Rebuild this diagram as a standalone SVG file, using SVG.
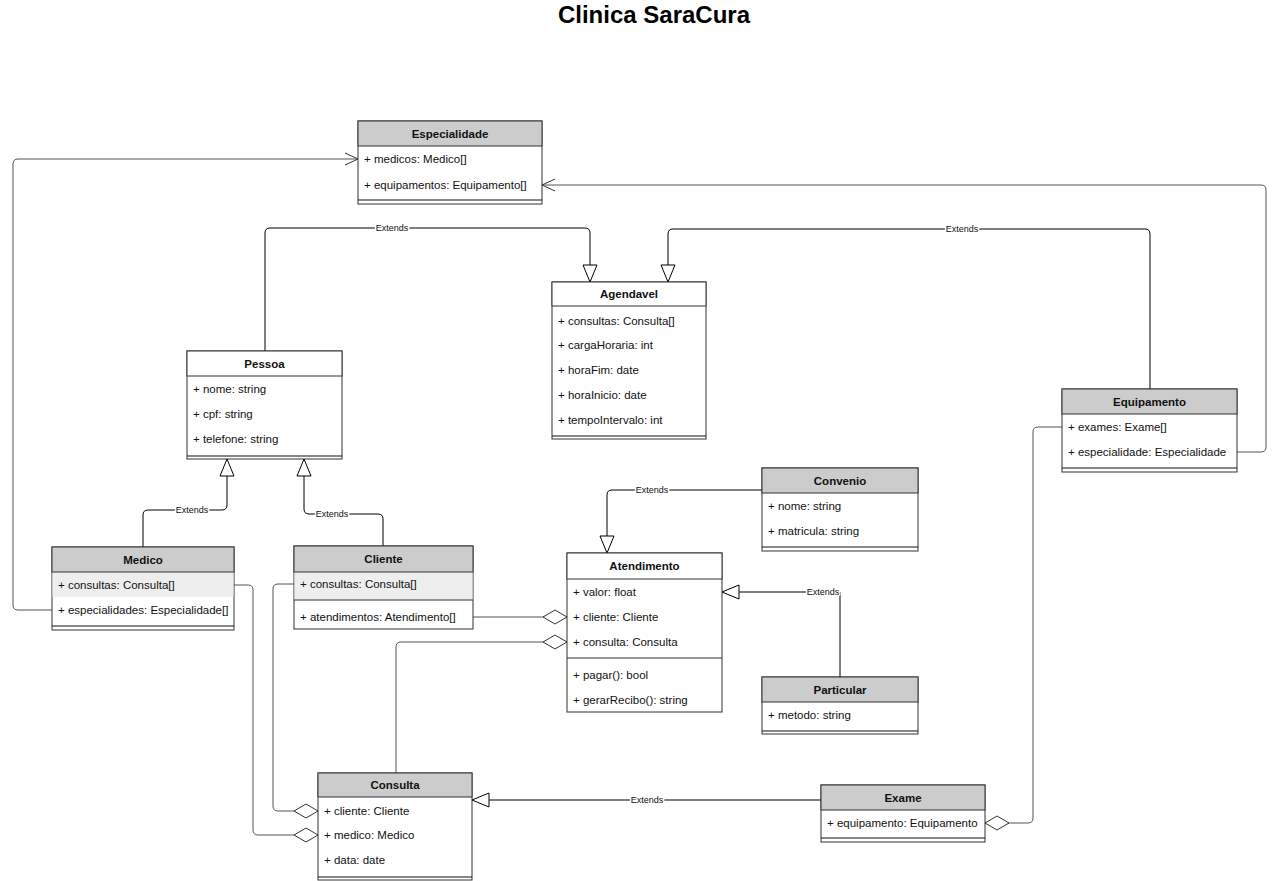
<svg xmlns="http://www.w3.org/2000/svg" width="1280" height="881" viewBox="0 0 1280 881">
<style>
.bg{fill:#fff}
.box{fill:#fff;stroke:#333;stroke-width:1}
.hg{fill:#ccc;stroke:#333;stroke-width:1}
.hw{fill:#fff;stroke:#333;stroke-width:1}
.sh{fill:#eee;stroke:none}
.sep{stroke:#111;stroke-width:1.2;fill:none}
.dv{stroke:#333;stroke-width:1;fill:none}
.t{font-family:"Liberation Sans",Arial,Helvetica,sans-serif;font-size:11.5px;fill:#111}
.h{font-weight:bold;text-anchor:middle}
.ttl{font-family:"Liberation Sans",Arial,Helvetica,sans-serif;font-size:24px;font-weight:bold;fill:#000;text-anchor:middle}
.lbl{font-family:"Liberation Sans",Arial,Helvetica,sans-serif;font-size:9px;fill:#111;text-anchor:middle;stroke:#fff;stroke-width:3px;paint-order:stroke;stroke-linejoin:round}
.ext{fill:none;stroke:#000;stroke-width:1}
.asc{fill:none;stroke:#555;stroke-width:1}
</style>
<defs>
<marker id="tri" markerUnits="userSpaceOnUse" markerWidth="20" markerHeight="18" refX="18" refY="8" orient="auto">
<path d="M1,1 L18,8 L1,15 Z" fill="#fff" stroke="#000" stroke-width="1"/>
</marker>
<marker id="dia" markerUnits="userSpaceOnUse" markerWidth="27" markerHeight="17" refX="25" refY="8" orient="auto">
<path d="M1,8 L13,1 L25,8 L13,15 Z" fill="#fff" stroke="#333" stroke-width="1"/>
</marker>
<marker id="opn" markerUnits="userSpaceOnUse" markerWidth="16" markerHeight="14" refX="14" refY="7" orient="auto">
<path d="M1,1 L14,7 L1,13" fill="none" stroke="#333" stroke-width="1"/>
</marker>
</defs>
<rect class="bg" x="0" y="0" width="1280" height="881"/>
<text class="ttl" x="654" y="23">Clinica SaraCura</text>

<g id="connectors">
<path class="asc" d="M52,610 L18,610 Q13,610 13,605 L13,164 Q13,159 18,159 L358,159" marker-end="url(#opn)"/>
<path class="asc" d="M1237,452 L1261,452 Q1266,452 1266,447 L1266,190 Q1266,185 1261,185 L542,185" marker-end="url(#opn)"/>
<path class="ext" d="M265,351 L265,233 Q265,228 270,228 L585,228 Q590,228 590,233 L590,282" marker-end="url(#tri)"/>
<path class="ext" d="M1150,389 L1150,234 Q1150,229 1145,229 L673,229 Q668,229 668,234 L668,282" marker-end="url(#tri)"/>
<path class="ext" d="M143,547 L143,515 Q143,510 148,510 L222,510 Q227,510 227,505 L227,459" marker-end="url(#tri)"/>
<path class="ext" d="M383,546 L383,519 Q383,514 378,514 L309,514 Q304,514 304,509 L304,459" marker-end="url(#tri)"/>
<path class="asc" d="M473,617 L567,617" marker-end="url(#dia)"/>
<path class="asc" d="M396,773 L396,647 Q396,642 401,642 L567,642" marker-end="url(#dia)"/>
<path class="asc" d="M294,584 L278,584 Q273,584 273,589 L273,806 Q273,811 278,811 L318,811" marker-end="url(#dia)"/>
<path class="asc" d="M234,585 L248,585 Q253,585 253,590 L253,830 Q253,835 258,835 L318,835" marker-end="url(#dia)"/>
<path class="ext" d="M821,800 L472,800" marker-end="url(#tri)"/>
<path class="asc" d="M1062,427 L1038,427 Q1033,427 1033,432 L1033,818 Q1033,823 1028,823 L985,823" marker-end="url(#dia)"/>
<path class="ext" d="M762,490 L612,490 Q607,490 607,495 L607,553" marker-end="url(#tri)"/>
<path class="ext" d="M840,677 L840,592 L722,592" marker-end="url(#tri)"/>
<text class="lbl" x="392" y="231">Extends</text>
<text class="lbl" x="962" y="232">Extends</text>
<text class="lbl" x="192" y="513">Extends</text>
<text class="lbl" x="332" y="517">Extends</text>
<text class="lbl" x="647" y="803">Extends</text>
<text class="lbl" x="652" y="493">Extends</text>
<text class="lbl" x="823" y="595">Extends</text>
</g>

<g id="Especialidade">
<rect class="box" x="358" y="121" width="184" height="83"/>
<rect class="hg" x="358" y="121" width="184" height="25"/>
<text class="t h" x="450" y="138">Especialidade</text>
<text class="t" x="364" y="163">+ medicos: Medico[]</text>
<text class="t" x="364" y="189">+ equipamentos: Equipamento[]</text>
<line class="sep" x1="358" y1="200" x2="542" y2="200"/>
</g>

<g id="Agendavel">
<rect class="box" x="552" y="282" width="154" height="157"/>
<rect class="hw" x="552" y="282" width="154" height="24"/>
<text class="t h" x="629" y="298">Agendavel</text>
<text class="t" x="558" y="325">+ consultas: Consulta[]</text>
<text class="t" x="558" y="349">+ cargaHoraria: int</text>
<text class="t" x="558" y="374">+ horaFim: date</text>
<text class="t" x="558" y="399">+ horaInicio: date</text>
<text class="t" x="558" y="424">+ tempoIntervalo: int</text>
<line class="sep" x1="552" y1="436" x2="706" y2="436"/>
</g>

<g id="Pessoa">
<rect class="box" x="187" y="351" width="155" height="108"/>
<rect class="hw" x="187" y="351" width="155" height="25"/>
<text class="t h" x="264.5" y="368">Pessoa</text>
<text class="t" x="193" y="393">+ nome: string</text>
<text class="t" x="193" y="418">+ cpf: string</text>
<text class="t" x="193" y="443">+ telefone: string</text>
<line class="sep" x1="187" y1="456" x2="342" y2="456"/>
</g>

<g id="Medico">
<rect class="box" x="52" y="547" width="182" height="83"/>
<rect class="sh" x="52.5" y="572" width="181" height="25"/>
<rect class="hg" x="52" y="547" width="182" height="25"/>
<text class="t h" x="143" y="564">Medico</text>
<text class="t" x="58" y="589">+ consultas: Consulta[]</text>
<text class="t" x="58" y="614">+ especialidades: Especialidade[]</text>
<line class="sep" x1="52" y1="626" x2="234" y2="626"/>
</g>

<g id="Cliente">
<rect class="box" x="294" y="546" width="179" height="83"/>
<rect class="sh" x="294.5" y="572" width="178" height="28"/>
<rect class="hg" x="294" y="546" width="179" height="26"/>
<text class="t h" x="383.5" y="563">Cliente</text>
<text class="t" x="300" y="588">+ consultas: Consulta[]</text>
<line class="dv" x1="294" y1="600" x2="473" y2="600"/>
<text class="t" x="300" y="621">+ atendimentos: Atendimento[]</text>
</g>

<g id="Atendimento">
<rect class="box" x="567" y="553" width="155" height="159"/>
<rect class="hw" x="567" y="553" width="155" height="26"/>
<text class="t h" x="644.5" y="570">Atendimento</text>
<text class="t" x="573" y="596">+ valor: float</text>
<text class="t" x="573" y="621">+ cliente: Cliente</text>
<text class="t" x="573" y="646">+ consulta: Consulta</text>
<line class="dv" x1="567" y1="658" x2="722" y2="658"/>
<text class="t" x="573" y="679">+ pagar(): bool</text>
<text class="t" x="573" y="704">+ gerarRecibo(): string</text>
</g>

<g id="Convenio">
<rect class="box" x="762" y="468" width="156" height="83"/>
<rect class="hg" x="762" y="468" width="156" height="25"/>
<text class="t h" x="840" y="485">Convenio</text>
<text class="t" x="768" y="510">+ nome: string</text>
<text class="t" x="768" y="535">+ matricula: string</text>
<line class="sep" x1="762" y1="547" x2="918" y2="547"/>
</g>

<g id="Particular">
<rect class="box" x="762" y="677" width="156" height="57"/>
<rect class="hg" x="762" y="677" width="156" height="25"/>
<text class="t h" x="840" y="694">Particular</text>
<text class="t" x="768" y="719">+ metodo: string</text>
<line class="sep" x1="762" y1="731" x2="918" y2="731"/>
</g>

<g id="Consulta">
<rect class="box" x="318" y="773" width="154" height="107"/>
<rect class="hg" x="318" y="773" width="154" height="24"/>
<text class="t h" x="395" y="789">Consulta</text>
<text class="t" x="324" y="815">+ cliente: Cliente</text>
<text class="t" x="324" y="839">+ medico: Medico</text>
<text class="t" x="324" y="864">+ data: date</text>
<line class="sep" x1="318" y1="877" x2="472" y2="877"/>
</g>

<g id="Exame">
<rect class="box" x="821" y="785" width="164" height="57"/>
<rect class="hg" x="821" y="785" width="164" height="25"/>
<text class="t h" x="903" y="802">Exame</text>
<text class="t" x="827" y="827">+ equipamento: Equipamento</text>
<line class="sep" x1="821" y1="838" x2="985" y2="838"/>
</g>

<g id="Equipamento">
<rect class="box" x="1062" y="389" width="175" height="83"/>
<rect class="hg" x="1062" y="389" width="175" height="25"/>
<text class="t h" x="1149.5" y="406">Equipamento</text>
<text class="t" x="1068" y="431">+ exames: Exame[]</text>
<text class="t" x="1068" y="456">+ especialidade: Especialidade</text>
<line class="sep" x1="1062" y1="468" x2="1237" y2="468"/>
</g>
</svg>
